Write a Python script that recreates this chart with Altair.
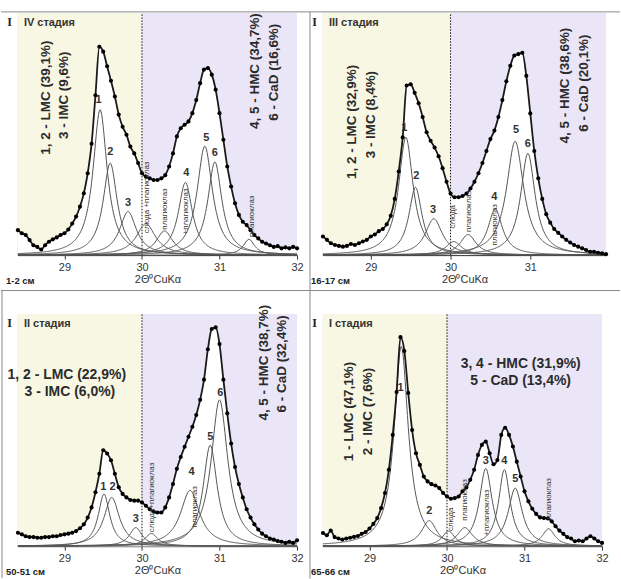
import altair as alt
import numpy as np
import pandas as pd

# ---------------- shared sampling positions (2θ, degrees) ----------------
two_theta = [28.40, 28.45, 28.50, 28.55, 28.60, 28.65, 28.70, 28.75, 28.80, 28.85,
             28.90, 28.95, 29.00, 29.05, 29.10, 29.15, 29.20, 29.25, 29.30, 29.35,
             29.40, 29.45, 29.50, 29.55, 29.60, 29.65, 29.70, 29.75, 29.80, 29.85,
             29.90, 29.95, 30.00, 30.05, 30.10, 30.15, 30.20, 30.25, 30.30, 30.35,
             30.40, 30.45, 30.50, 30.55, 30.60, 30.65, 30.70, 30.75, 30.80, 30.85,
             30.90, 30.95, 31.00, 31.05, 31.10, 31.15, 31.20, 31.25, 31.30, 31.35,
             31.40, 31.45, 31.50, 31.55, 31.60, 31.65, 31.70, 31.75, 31.80, 31.85,
             31.90, 31.95, 32.00]

# ---------------- panel 1: IV стадия, 1-2 см ----------------
p1_dots = [10.3, 9.0, 8.3, 6.2, 4.1, 3.4, 2.3, 4.1, 5.5, 6.5,
           7.3, 8.3, 9.0, 10.6, 13.0, 15.9, 20.0, 25.5, 33.8, 46.0,
           66.0, 86.0, 84.0, 78.0, 72.0, 65.5, 58.0, 53.0, 49.7, 44.8,
           42.0, 38.0, 33.8, 32.4, 31.7, 31.0, 31.0, 31.7, 33.0, 36.6,
           42.0, 49.0, 52.4, 53.8, 55.2, 58.6, 64.0, 71.0, 76.6, 77.2,
           74.5, 68.3, 58.6, 47.6, 36.6, 28.3, 21.4, 16.6, 13.8, 12.4,
           10.3, 8.3, 6.9, 5.5, 4.8, 4.1, 3.4, 3.7, 2.8, 3.2,
           2.8, 3.4, 2.8]
p1_peak_names = ["1", "2", "3", "m1", "m2", "4", "5", "6", "m3"]
p1_peak_center = [29.46, 29.59, 29.82, 30.05, 30.29, 30.56, 30.81, 30.94, 31.38]
p1_peak_height = [60.0, 38.0, 18.0, 13.0, 10.0, 30.0, 45.0, 38.5, 6.5]
p1_peak_hwhm = [0.11, 0.11, 0.13, 0.15, 0.13, 0.11, 0.12, 0.11, 0.09]
p1_num_text = ["1", "2", "3", "4", "5", "6"]
p1_num_x = [29.44, 29.59, 29.82, 30.57, 30.83, 30.94]
p1_num_y = [64.0, 42.5, 21.5, 34.0, 48.5, 42.0]
p1_min_text = ["слюда +плагиоклаз", "плагиоклаз", "+плагиоклаз", "плагиоклаз"]
p1_min_x = [30.06, 30.30, 30.57, 31.42]
p1_min_y = [9.0, 10.5, 8.5, 7.5]
p1_rot_text = ["1, 2 - LMC (39,1%)", "3 - IMC (9,6%)", "4, 5 - HMC (34,7%)", "6 - CaD (16,6%)"]
p1_rot_x = [28.76, 29.00, 31.46, 31.70]
p1_rot_y = [65.0, 66.0, 76.0, 75.5]

# ---------------- panel 2: III стадия, 16-17 см ----------------
p2_dots = [7.7, 6.3, 4.9, 4.2, 3.8, 3.5, 3.8, 4.6, 4.2, 4.9,
           5.6, 6.3, 7.7, 8.5, 9.9, 10.8, 12.7, 16.2, 23.2, 34.5,
           48.6, 70.0, 70.5, 67.0, 62.7, 57.0, 50.7, 47.2, 44.4, 40.8,
           35.9, 30.3, 25.4, 23.9, 23.9, 24.4, 25.4, 27.5, 30.3, 33.8,
           38.0, 43.0, 47.9, 51.4, 57.0, 64.0, 71.8, 78.2, 82.4, 83.0,
           83.5, 74.0, 58.5, 43.0, 31.7, 23.2, 16.9, 13.4, 10.8, 9.2,
           7.7, 6.3, 5.2, 4.2, 3.5, 2.8, 2.1, 1.4, 1.4, 1.0,
           0.7, 0.4]
p2_peak_names = ["1", "2", "3", "m1", "m2", "4", "5", "6"]
p2_peak_center = [29.44, 29.56, 29.79, 30.04, 30.22, 30.56, 30.81, 30.97]
p2_peak_height = [48.6, 28.0, 15.0, 5.6, 8.5, 19.0, 47.0, 42.0]
p2_peak_hwhm = [0.11, 0.10, 0.13, 0.12, 0.12, 0.11, 0.13, 0.11]
p2_num_text = ["1", "2", "3", "4", "5", "6"]
p2_num_x = [29.42, 29.57, 29.78, 30.55, 30.82, 30.97]
p2_num_y = [52.5, 32.5, 18.5, 24.0, 51.5, 46.0]
p2_min_text = ["слюда", "плагиоклаз", "плагиоклаз"]
p2_min_x = [30.03, 30.23, 30.56]
p2_min_y = [11.0, 9.5, 4.0]
p2_rot_text = ["1, 2 - LMC (32,9%)", "3 - IMC (8,4%)", "4, 5 - HMC (38,6%)", "6 - CaD (20,1%)"]
p2_rot_x = [28.77, 29.00, 31.44, 31.67]
p2_rot_y = [55.0, 58.0, 70.0, 71.0]

# ---------------- panel 3: II стадия, 50-51 см ----------------
p3_dots = [5.8, 5.1, 4.3, 3.9, 3.9, 3.6, 3.6, 3.9, 3.9, 4.3,
           4.3, 4.8, 5.1, 5.4, 5.8, 6.5, 7.7, 9.4, 12.3, 16.7,
           23.2, 31.2, 41.3, 39.9, 37.0, 31.2, 25.4, 22.5, 21.0, 19.9,
           19.6, 19.6, 18.8, 17.4, 15.9, 14.9, 14.5, 14.5, 16.7, 21.0,
           26.8, 33.3, 38.4, 42.8, 47.1, 51.4, 56.5, 63.0, 71.7, 84.8,
           93.5, 94.2, 87.0, 71.7, 57.2, 44.2, 34.1, 26.8, 21.0, 15.9,
           12.3, 9.4, 7.2, 5.4, 4.3, 3.3, 2.9, 2.2, 1.9, 1.4,
           1.9, 1.4, 2.5]
p3_peak_names = ["1", "2", "3", "m1", "4", "5", "6"]
p3_peak_center = [29.51, 29.61, 29.92, 30.12, 30.62, 30.88, 31.00]
p3_peak_height = [22.5, 21.0, 8.0, 5.5, 24.0, 43.5, 63.0]
p3_peak_hwhm = [0.09, 0.12, 0.10, 0.10, 0.15, 0.11, 0.13]
p3_num_text = ["1", "2", "3", "4", "5", "6"]
p3_num_x = [29.50, 29.62, 29.92, 30.64, 30.88, 31.01]
p3_num_y = [25.5, 25.5, 11.5, 32.0, 47.0, 66.0]
p3_min_text = ["слюда+плагиоклаз", "плагиоклаз"]
p3_min_x = [30.13, 30.69]
p3_min_y = [6.0, 8.0]
p3_rot_text = ["4, 5 - HMC (38,7%)", "6 - CaD (32,4%)"]
p3_rot_x = [31.57, 31.81]
p3_rot_y = [79.0, 78.5]
p3_hor_text = ["1, 2 - LMC (22,9%)", "3 - IMC (6,0%)"]
p3_hor_x = [29.03, 29.07]
p3_hor_y = [73.5, 66.5]

# ---------------- panel 4: I стадия, 65-66 см ----------------
p4_dots = [5.7, 4.7, 6.7, 3.9, 3.3, 2.9, 3.3, 3.6, 4.0, 4.4,
           5.3, 6.1, 7.6, 9.6, 12.1, 16.4, 22.9, 32.9, 47.9, 66.4,
           90.0, 84.0, 66.0, 50.0, 40.0, 35.0, 30.0, 27.9, 26.7, 26.1,
           25.0, 22.9, 21.4, 20.4, 20.7, 21.4, 23.6, 25.3, 28.6, 32.9,
           39.3, 43.6, 45.0, 40.0, 35.3, 37.1, 47.9, 51.0, 47.9, 42.9,
           36.4, 30.0, 23.6, 19.3, 16.1, 13.9, 12.4, 12.1, 11.9, 10.7,
           8.6, 6.7, 5.3, 3.9, 3.3, 2.1, 2.4, 2.1, 3.3, 4.3,
           3.3, 2.1, 1.4]
p4_peak_names = ["1", "2", "m1", "m2", "3", "4", "5", "m3"]
p4_peak_center = [29.41, 29.77, 30.02, 30.23, 30.50, 30.74, 30.88, 31.31]
p4_peak_height = [86.0, 11.0, 6.5, 8.0, 33.5, 33.0, 25.0, 7.5]
p4_peak_hwhm = [0.11, 0.12, 0.10, 0.12, 0.10, 0.09, 0.11, 0.10]
p4_num_text = ["1", "2", "3", "4", "5"]
p4_num_x = [29.40, 29.77, 30.50, 30.74, 30.88]
p4_num_y = [68.0, 15.0, 36.5, 36.5, 29.0]
p4_min_text = ["слюда", "плагиоклаз", "+плагиоклаз", "плагиоклаз"]
p4_min_x = [30.05, 30.23, 30.51, 31.32]
p4_min_y = [6.5, 11.0, 4.5, 11.5]
p4_rot_text = ["1 - LMC (47,1%)", "2 - IMC (7,6%)"]
p4_rot_x = [28.74, 28.98]
p4_rot_y = [58.0, 58.0]
p4_hor_text = ["3, 4 - HMC (31,9%)", "5 - CaD (13,4%)"]
p4_hor_x = [30.95, 30.95]
p4_hor_y = [78.5, 71.3]

YELLOW = "#F7F7E3"
PURPLE = "#EAE6F7"
TXT = "#2b2b2b"


def peak_curves(names, centers, heights, hwhms, xdom):
    grid = np.linspace(xdom[0], xdom[1], 361)
    frames = []
    for n, c, a, w in zip(names, centers, heights, hwhms):
        frames.append(pd.DataFrame({"x": grid, "y": a / (1.0 + ((grid - c) / w) ** 2), "peak": n}))
    return pd.concat(frames, ignore_index=True)


def one_row():
    return pd.DataFrame({"k": [0]})


def panel(stage, depth, xdom, ticks, W, H, dots, peaks, nums, mins, rot, hor, lines):
    xs = alt.Scale(domain=xdom, nice=False, zero=False)
    ys = alt.Scale(domain=[0, 100], nice=False, zero=True)
    xax = alt.Axis(values=ticks, title="2Θ⁰CuKα", grid=False, labelFlush=False,
                   labelFontSize=11, labelColor="#333", tickColor="#333", tickSize=4,
                   domainColor="#333", titleFontSize=11, titleFontWeight="normal",
                   titleColor="#333", titlePadding=1, labelPadding=2, format="d")
    yax = alt.Axis(title="I", titleAngle=0, titleX=-9, titleY=9, titleAlign="center",
                   titleBaseline="middle", titleFont="Liberation Serif", titleFontSize=12,
                   titleFontWeight="bold", titleColor="#222", labels=False, ticks=False,
                   grid=False, domainColor="#333")
    X = alt.X("x:Q", scale=xs, axis=xax)
    Y = alt.Y("y:Q", scale=ys, axis=yax)

    bg = pd.DataFrame({"x": [xdom[0], 30.0], "x2": [30.0, xdom[1]],
                       "y": [0, 0], "y2": [100, 100], "zone": ["a", "b"]})
    layers = [
        alt.Chart(bg).mark_rect().encode(
            x=X, x2="x2:Q", y=Y, y2="y2:Q",
            color=alt.Color("zone:N", scale=alt.Scale(domain=["a", "b"], range=[YELLOW, PURPLE]), legend=None)),
    ]
    dd = pd.DataFrame({"x": two_theta[:len(dots)], "y": dots})
    layers.append(alt.Chart(dd).mark_area(color="white", opacity=1, interpolate="monotone").encode(x=X, y=Y))
    vr = pd.DataFrame({"x": [30.0], "y": [0], "y2": [100]})
    layers.append(alt.Chart(vr).mark_rule(color="#111", strokeDash=[1.5, 1.5], strokeWidth=1).encode(
        x=X, y=Y, y2="y2:Q"))
    pc = peak_curves(*peaks, xdom)
    layers.append(alt.Chart(pc).mark_line(color="#555555", strokeWidth=1).encode(
        x=X, y=Y, detail="peak:N"))
    layers.append(alt.Chart(dd).mark_line(color="#1a1a1a", strokeWidth=1.8, interpolate="monotone").encode(x=X, y=Y))
    layers.append(alt.Chart(dd).mark_circle(color="black", size=17, opacity=1).encode(x=X, y=Y))

    nd = pd.DataFrame({"x": nums[1], "y": nums[2], "t": nums[0]})
    layers.append(alt.Chart(nd).mark_text(fontSize=11, fontWeight="bold", color="#333",
                                          baseline="middle").encode(x=X, y=Y, text="t:N"))
    md = pd.DataFrame({"x": mins[1], "y": mins[2], "t": mins[0]})
    layers.append(alt.Chart(md).mark_text(fontSize=8, color="#333", angle=270, align="left",
                                          baseline="middle").encode(x=X, y=Y, text="t:N"))
    if rot is not None:
        rd = pd.DataFrame({"x": rot[1], "y": rot[2], "t": rot[0]})
        layers.append(alt.Chart(rd).mark_text(fontSize=13.5, fontWeight="bold", color=TXT, angle=270,
                                              align="center", baseline="middle").encode(x=X, y=Y, text="t:N"))
    if hor is not None:
        hd = pd.DataFrame({"x": hor[1], "y": hor[2], "t": hor[0]})
        layers.append(alt.Chart(hd).mark_text(fontSize=14, fontWeight="bold", color=TXT,
                                              align="center", baseline="middle").encode(x=X, y=Y, text="t:N"))
    layers.append(alt.Chart(one_row()).mark_text(text=stage, fontSize=11, fontWeight="bold", color="#333",
                                                 align="left", baseline="middle").encode(
        x=alt.value(6), y=alt.value(10)))
    layers.append(alt.Chart(one_row()).mark_text(text=depth, fontSize=9.5, fontWeight="bold", color="#222",
                                                 align="left", baseline="middle").encode(
        x=alt.value(-12), y=alt.value(H + 26)))
    for (x1, x2, y1, y2) in lines:
        if y1 == y2:
            enc = dict(x=alt.value(x1), x2=alt.value(x2), y=alt.value(y1))
        else:
            enc = dict(x=alt.value(x1), y=alt.value(y1), y2=alt.value(y2))
        layers.append(alt.Chart(one_row()).mark_rule(color="#8a8a8a", strokeWidth=1).encode(**enc))
    return alt.layer(*layers).properties(width=W, height=H)


H_TOP, H_BOT = 243, 233

c1 = panel("IV стадия", "1-2 см", [28.4, 32.0], [29, 30, 31, 32], 280, H_TOP, p1_dots,
           (p1_peak_names, p1_peak_center, p1_peak_height, p1_peak_hwhm),
           (p1_num_text, p1_num_x, p1_num_y), (p1_min_text, p1_min_x, p1_min_y),
           (p1_rot_text, p1_rot_x, p1_rot_y), None,
           [(-17, 604, -1, -1), (-17, 604, 278.5, 278.5), (293, 293, -1, 567.5)])
c2 = panel("III стадия", "16-17 см", [28.4, 31.95], [29, 30, 31], 284, H_TOP, p2_dots,
           (p2_peak_names, p2_peak_center, p2_peak_height, p2_peak_hwhm),
           (p2_num_text, p2_num_x, p2_num_y), (p2_min_text, p2_min_x, p2_min_y),
           (p2_rot_text, p2_rot_x, p2_rot_y), None, [])
c3 = panel("II стадия", "50-51 см", [28.4, 32.0], [29, 30, 31, 32], 280, H_BOT, p3_dots,
           (p3_peak_names, p3_peak_center, p3_peak_height, p3_peak_hwhm),
           (p3_num_text, p3_num_x, p3_num_y), (p3_min_text, p3_min_x, p3_min_y),
           (p3_rot_text, p3_rot_x, p3_rot_y), (p3_hor_text, p3_hor_x, p3_hor_y),
           [(-16, -16, -24, 265)])
c4 = panel("I стадия", "65-66 см", [28.4, 32.0], [29, 30, 31, 32], 280, H_BOT, p4_dots,
           (p4_peak_names, p4_peak_center, p4_peak_height, p4_peak_hwhm),
           (p4_num_text, p4_num_x, p4_num_y), (p4_min_text, p4_min_x, p4_min_y),
           (p4_rot_text, p4_rot_x, p4_rot_y), (p4_hor_text, p4_hor_x, p4_hor_y), [])

chart = alt.concat(c1, c2, c3, c4, columns=2, spacing={"row": 59, "column": 26}, bounds="flush").properties(
    padding={"left": 0, "top": 10, "right": 0, "bottom": 0}
).configure(font="Liberation Sans", background="white").configure_view(strokeWidth=0)

chart.save("out.html", embed_options={"renderer": "svg", "actions": False})
